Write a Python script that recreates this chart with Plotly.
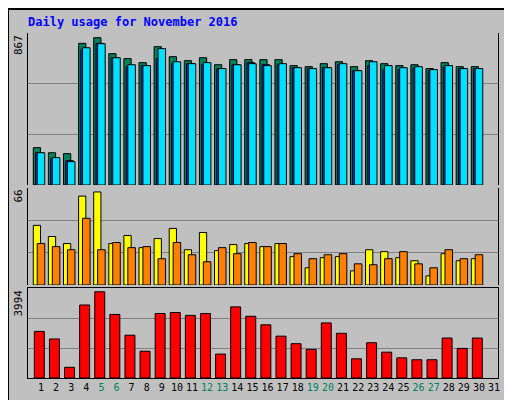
import plotly.graph_objects as go

days = list(range(1, 32))
hits = [213,184,179,808,840,749,721,698,789,732,709,726,686,715,715,715,715,681,675,692,703,675,709,692,681,686,664,698,675,675,None]
files = [184,150,139,774,808,726,675,681,721,692,692,686,664,686,698,686,686,669,664,669,686,652,681,658,658,669,652,675,664,664,None]
pages = [184,156,133,783,806,726,686,681,778,703,692,698,664,686,692,681,692,669,664,669,692,652,703,681,669,675,658,681,664,664,None]
visits = [40.6,33,28.2,60.5,63.3,28.2,33.7,25.4,31.6,38.5,24,35.7,23.4,27.5,28.2,26.1,28.2,19.3,11.7,18.6,19.3,9.6,24,22.7,18.6,16.5,6.2,21.3,16.5,17.9,None]
sites = [28.2,26.1,24,45.4,24,28.9,25.4,26.1,17.9,28.9,20.6,15.8,25.4,21.3,28.9,26.1,28.2,21.3,17.9,20.6,21.3,14.4,13.8,17.9,22.7,14.4,11.7,24,17.9,20.6,None]
kbytes = [2067,1732,475,3240,3826,2821,1899,1187,2863,2905,2779,2863,1061,3156,2737,2360,1857,1522,1271,2444,1983,852,1564,1145,894,810,810,1774,1313,1774,None]
weekend = [5,6,12,13,19,20,26,27]
max_hits, max_sites, max_kb = 867, 66, 3994

C_HITS, C_FILES, C_PAGES = "#00805c", "#0040ff", "#00e0ff"
C_VISITS, C_SITES, C_KB = "#ffff00", "#ff8000", "#ff0000"
FONT = "DejaVu Sans Mono"

fig = go.Figure()
def bar(y, color, off, w, ya, name):
    fig.add_trace(go.Bar(x=days, y=y, marker=dict(color=color, line=dict(color="black", width=1)),
                         offset=off, width=w, yaxis=ya, xaxis="x", name=name, showlegend=False))
bar(hits, C_HITS, -0.51, 0.48, "y", "Hits")
bar(files, C_FILES, -0.36, 0.5, "y", "Files")
bar(pages, C_PAGES, -0.25, 0.5, "y", "Pages")
bar(visits, C_VISITS, -0.51, 0.48, "y2", "Visits")
bar(sites, C_SITES, -0.25, 0.5, "y2", "Sites")
bar(kbytes, C_KB, -0.44, 0.66, "y3", "KBytes")

ticktext = [f"<span style='color:{C_HITS if d in weekend else 'black'}'>{d}</span>" for d in days]

def yax(dom, mx):
    return dict(domain=dom, range=[0, mx], tickvals=[mx/3, 2*mx/3], showticklabels=False,
                showgrid=True, gridcolor="#808080", gridwidth=1, zeroline=False,
                showline=True, linecolor="black", mirror=True, ticks="", fixedrange=True)

H = 345.0
fig.update_layout(
    width=512, height=400, margin=dict(l=20, r=22, t=25, b=30),
    paper_bgcolor="#c0c0c0", plot_bgcolor="#c0c0c0", barmode="overlay",
    font=dict(family=FONT, size=11, color="black"),
    xaxis=dict(range=[0.14, 31.26], tickvals=days, ticktext=ticktext, showgrid=False,
               zeroline=False, showline=True, linecolor="black", mirror=True, anchor="y3",
               tickfont=dict(size=10), tickangle=0, ticks="", fixedrange=True),
    yaxis=yax([(370-177)/H, 1], max_hits),
    yaxis2=yax([(370-277)/H, (370-180)/H], max_sites),
    yaxis3=yax([0, 90/H], max_kb),
    title=dict(text="<b>Daily usage for November 2016</b>", x=20/512, xanchor="left",
               y=1-14/400, yanchor="middle", font=dict(family=FONT, size=12, color="#0000ff")),
)
ann = []
for yref, mx, txt in [("y", max_hits, "867"), ("y2", max_sites, "66"), ("y3", max_kb, "3994")]:
    ann.append(dict(x=-10/470, xref="paper", xanchor="center", y=mx, yref=yref, yanchor="top",
                    text=txt, textangle=-90, showarrow=False, font=dict(size=11)))
def rlab(yref, y, html):
    ann.append(dict(x=1+11/470, xref="paper", xanchor="center", y=y, yref=yref, yanchor="top",
                    text=html, textangle=-90, showarrow=False, font=dict(size=11)))
rlab("y", max_hits, f"<span style='color:{C_PAGES}'>Pages</span> / <span style='color:{C_FILES}'>Files</span> / <span style='color:{C_HITS}'>Hits</span>")
rlab("y2", max_sites * 0.95, f"<span style='color:{C_SITES}'>Sites</span> / <span style='color:{C_VISITS}'>Visits</span>")
rlab("y3", max_kb * 0.35, f"<span style='color:{C_KB}'>KBytes</span>")
fig.update_layout(annotations=ann)

fig.update_layout(shapes=[
    dict(type="rect", xref="paper", yref="paper", x0=-20/470, x1=1+21/470, y0=-29/H, y1=1+24/H,
         line=dict(color="black", width=2)),
    dict(type="line", xref="paper", yref="paper", x0=-17/470, x1=1+18/470, y0=-26/H, y1=-26/H,
         line=dict(color="#808080", width=2)),
])
fig.write_html("out.html")
